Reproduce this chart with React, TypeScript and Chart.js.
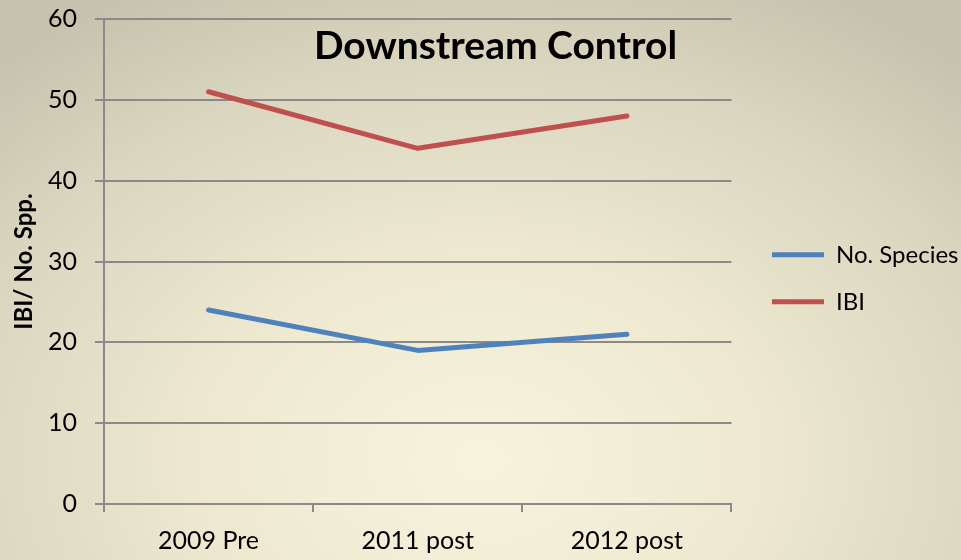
import React, { useEffect, useRef } from "react";
import { Chart, registerables } from "chart.js";

Chart.register(...registerables);

const categories = ["2009 Pre", "2011 post", "2012 post"];
const speciesValues = [24, 19, 21];
const ibiValues = [51, 44, 48];
const chartTitle = "Downstream Control";
const yAxisTitle = "IBI/ No. Spp.";
const seriesNames = ["No. Species", "IBI"];

const FONT = "Lato, 'Open Sans', sans-serif";
const GRID = "#8a8a8a";

const overlayTitle = {
  id: "overlayTitle",
  afterDraw(chart: any) {
    const { ctx, chartArea } = chart;
    ctx.save();
    ctx.font = `bold 39px ${FONT}`;
    ctx.fillStyle = "#000";
    ctx.textAlign = "center";
    ctx.textBaseline = "alphabetic";
    const x = chartArea.left + (chartArea.right - chartArea.left) * 0.624;
    ctx.fillText(chartTitle, x, chartArea.top + 40);
    ctx.restore();
  },
};

export default function App() {
  const ref = useRef<HTMLCanvasElement | null>(null);
  useEffect(() => {
    if (!ref.current) return;
    const chart = new Chart(ref.current, {
      type: "line",
      data: {
        labels: categories,
        datasets: [
          {
            label: seriesNames[0],
            data: speciesValues,
            borderColor: "#4F81BD",
            backgroundColor: "#4F81BD",
            borderWidth: 5,
            pointRadius: 0,
            tension: 0,
            borderCapStyle: "round",
            borderJoinStyle: "round",
          },
          {
            label: seriesNames[1],
            data: ibiValues,
            borderColor: "#C0504D",
            backgroundColor: "#C0504D",
            borderWidth: 5,
            pointRadius: 0,
            tension: 0,
            borderCapStyle: "round",
            borderJoinStyle: "round",
          },
        ],
      },
      options: {
        animation: false,
        responsive: true,
        maintainAspectRatio: false,
        layout: { padding: { top: 19, right: -7.5, bottom: 0, left: 0 } },
        plugins: {
          title: { display: false },
          tooltip: { enabled: false },
          legend: {
            position: "right",
            fullSize: false,
            maxWidth: 320,
            title: {
              display: true,
              text: " ",
              font: { family: FONT, size: 28 },
              padding: 0,
            },
            labels: {
              usePointStyle: true,
              pointStyle: "line",
              pointStyleWidth: 52,
              padding: 23,
              color: "#000",
              font: { family: FONT, size: 24 },
            },
          },
        },
        scales: {
          x: {
            offset: true,
            grid: {
              offset: true,
              drawOnChartArea: false,
              drawTicks: true,
              tickLength: 8,
              color: GRID,
              lineWidth: 2,
            },
            border: { display: true, color: GRID, width: 2 },
            ticks: {
              color: "#000",
              padding: 14,
              font: { family: FONT, size: 25 },
              maxRotation: 0,
            },
            afterFit: (s: any) => {
              s.height = 56;
            },
          },
          y: {
            min: 0,
            max: 60,
            ticks: {
              stepSize: 10,
              color: "#000",
              padding: 18,
              font: { family: FONT, size: 25 },
            },
            grid: { color: GRID, lineWidth: 2, tickLength: 9 },
            border: { display: true, color: GRID, width: 2 },
            title: {
              display: true,
              text: yAxisTitle,
              color: "#000",
              font: { family: FONT, size: 24, weight: "bold" },
              padding: { top: 10, bottom: 0 },
            },
            afterFit: (s: any) => {
              s.width = 104;
              s.paddingTop = 0;
              s.paddingBottom = 0;
            },
          },
          spacer: {
            type: "linear",
            position: "right",
            display: true,
            grid: { display: false, drawTicks: false },
            border: { display: false },
            ticks: { display: false },
            afterFit: (s: any) => {
              s.width = 17.5;
              s.paddingTop = 0;
              s.paddingBottom = 0;
            },
          },
        },
      },
      plugins: [overlayTitle],
    } as any);
    return () => chart.destroy();
  }, []);

  return (
    <div
      style={{
        position: "fixed",
        left: 0,
        top: 0,
        width: 961,
        height: 560,
        background:
          "radial-gradient(ellipse 75% 95% at 50% 82%, #f8f3dd 0%, #ede8cf 40%, #d9d5bf 75%, #c6c2ad 100%)",
      }}
    >
      <canvas ref={ref} style={{ width: "100%", height: "100%", display: "block" }} />
    </div>
  );
}
